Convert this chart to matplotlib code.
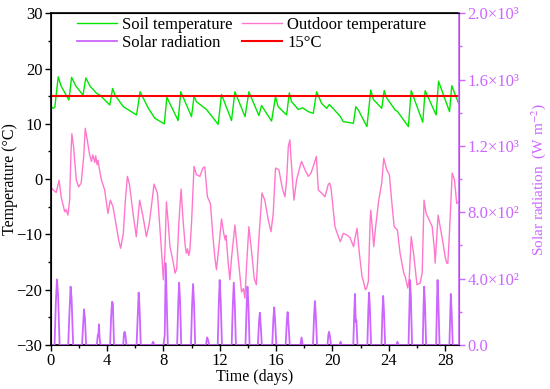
import numpy as np
import matplotlib
matplotlib.use('Agg')
import matplotlib.pyplot as plt

plt.rcParams['font.family'] = ['Liberation Serif', 'DejaVu Serif']
plt.rcParams['mathtext.fontset'] = 'stix'

# soil temperature (degC), vertices
soil_t = [0, 0.18, 0.3, 0.54, 0.75, 1.3, 1.49, 1.8, 2.3, 2.5, 2.8, 3.27, 3.5, 4.2, 4.4, 4.57,
          5.16, 6.1, 6.35, 6.94, 7.4, 8.07, 8.25, 9.05, 9.24, 10.0, 10.18, 10.35, 11.06, 11.89,
          12.13, 12.84, 13.08, 13.8, 14.07, 14.78, 14.97, 15.68, 15.96, 16.15, 16.75, 16.94,
          17.1, 17.58, 17.88, 18.29, 18.64, 18.88, 19.23, 19.59, 19.78, 20.54, 20.77, 21.49,
          21.66, 21.84, 22.45, 22.72, 22.91, 23.5, 23.67, 23.85, 24.45, 24.63, 25.39, 25.59,
          26.41, 26.58, 27.36, 27.53, 28.31, 28.47, 28.95]
soil_T = [13.2, 12.8, 13.0, 18.5, 16.8, 14.3, 18.4, 16.8, 15.2, 18.3, 16.8, 15.5, 15.2, 13.4, 16.4, 15.2,
          13.1, 11.6, 15.8, 12.8, 11.0, 10.0, 14.8, 10.6, 15.8, 11.3, 15.0, 14.0, 12.6, 9.9,
          15.3, 10.6, 15.8, 11.3, 15.8, 11.5, 13.3, 10.5, 14.9, 13.1, 11.6, 15.6,
          14.0, 12.6, 12.9, 12.2, 11.9, 15.8, 13.7, 12.8, 13.5, 11.4, 10.4, 10.1,
          13.1, 12.5, 9.5, 16.1, 14.4, 12.8, 16.0, 14.7, 12.5, 12.2, 9.5, 16.0,
          10.3, 16.0, 11.6, 17.7, 12.2, 16.9, 13.7]

# outdoor temperature (degC)
out_t = [0.0, 0.2, 0.4, 0.6, 0.75, 0.9, 1.0, 1.1, 1.23, 1.35, 1.45, 1.51, 1.63, 1.75, 1.82, 1.99,
         2.17, 2.35, 2.46, 2.6, 2.77, 2.9, 3.0, 3.13, 3.2, 3.3, 3.36, 3.45, 3.6, 3.84, 4.07, 4.24,
         4.43, 4.67, 4.83, 4.97, 5.16, 5.3, 5.45, 5.6, 5.85, 6.08, 6.32, 6.56, 6.8, 7.0, 7.15,
         7.34, 7.58, 7.77, 7.9, 8.0, 8.1, 8.22, 8.35, 8.47, 8.7, 8.83, 8.95, 9.1, 9.26, 9.4,
         9.55, 9.64, 9.72, 9.8, 9.88, 10.0, 10.18, 10.35, 10.6, 10.8, 10.94, 11.13, 11.34, 11.54,
         11.65, 11.77, 11.95, 12.13, 12.3, 12.39, 12.45, 12.6, 12.72, 12.85, 13.08, 13.3, 13.55,
         13.68, 13.79, 13.9, 14.07, 14.3, 14.45, 14.6, 14.75, 15.0, 15.2, 15.45, 15.64, 15.8,
         15.96, 16.2, 16.44, 16.63, 16.75, 16.87, 16.98, 17.1, 17.27, 17.46, 17.7, 17.81, 18.05,
         18.29, 18.48, 18.64, 18.86, 19.0, 19.23, 19.47, 19.7, 19.8, 19.9, 20.18, 20.42, 20.56,
         20.77, 21.04, 21.25, 21.5, 21.6, 21.75, 21.91, 22.1, 22.2, 22.34, 22.43, 22.55, 22.67,
         22.72, 22.86, 22.93, 23.05, 23.27, 23.5, 23.64, 23.85, 24.04, 24.2, 24.38, 24.61, 24.8,
         25.06, 25.16, 25.35, 25.45, 25.59, 25.77, 26.0, 26.22, 26.37, 26.5, 26.65, 27.08, 27.24,
         27.29, 27.5, 27.79, 28.02, 28.12, 28.19, 28.3, 28.5, 28.66, 28.82, 28.95]
out_T = [-1.4, -2.0, -2.4, -0.2, -3.2, -4.8, -5.9, -5.5, -6.5, -3.8, 5.0, 8.2, 5.9, 2.0, -0.1, -1.4,
         -0.7, 4.1, 9.2, 7.1, 4.4, 3.2, 4.4, 3.0, 4.2, 2.6, 3.4, 2.0, -0.1, -2.0, -6.2, -3.8,
         -5.0, -8.6, -11.0, -12.5, -9.8, -4.0, 0.5, -1.0, -6.2, -10.4, -3.8, -6.8, -10.4, -8.0, -5.0,
         -0.9, -2.5, -9.2, -14.0, -18.2, -14.0, -4.1, -8.0, -12.2, -15.0, -17.0, -16.2, -8.0, -1.8, -7.4,
         -12.0, -13.4, -12.6, -13.8, -13.0, -8.0, 2.3, 0.8, 0.5, 2.0, 2.2, -3.2, -4.4, -11.0,
         -14.0, -16.4, -12.0, -7.2, -10.0, -11.0, -10.2, -15.0, -18.2, -14.0, -8.3, -14.0, -20.4,
         -19.8, -21.5, -16.0, -8.6, -14.0, -18.0, -19.1, -12.0, -2.5, -3.8, -7.4, -9.5, -6.2,
         2.0, 1.7, -1.6, -3.2, -0.1, 5.9, 7.1, 2.3, -3.8, -0.1, 2.3, 3.2, 1.7,
         0.5, 1.1, 2.3, 4.1, -2.0, -2.5, -3.2, -1.0, -0.7, -1.6, -8.6, -10.4, -11.3,
         -9.8, -10.1, -10.6, -12.2, -10.7, -8.9, -13.4, -17.6, -18.5, -20.0, -19.7, -18.5, -8.0,
         -5.6, -9.8, -12.2, -9.0, -4.1, -0.7, 3.8, 1.7, 0.8, -3.8, -8.6, -9.2, -13.4,
         -17.0, -17.6, -19.7, -18.0, -10.4, -13.7, -19.1, -18.8, -17.0, -3.8, -6.2, -8.6, -12.8,
         -15.2, -6.5, -10.7, -14.3, -15.2, -15.2, -10.0, 1.1, -0.1, -4.4, -4.1]

# solar radiation (W m-2)
sol_t = [0.0, 0.28, 0.37, 0.45, 0.53, 0.64, 1.25, 1.34, 1.42, 1.49, 1.6, 2.23, 2.31, 2.37, 2.44, 2.52,
         3.28, 3.35, 3.4, 3.43, 3.48, 3.54, 4.22, 4.3, 4.36, 4.42, 4.5, 5.15, 5.21, 5.26, 5.31, 5.38,
         6.1, 6.19, 6.25, 6.31, 6.4, 7.18, 7.27, 7.36, 8.01, 8.1, 8.17, 8.23, 8.32, 8.98, 9.06, 9.12,
         9.19, 9.27, 9.96, 10.04, 10.11, 10.18, 10.26, 11.02, 11.11, 11.18, 11.25, 11.86, 11.94,
         12.0, 12.07, 12.16, 12.85, 12.93, 13.0, 13.07, 13.15, 13.83, 13.91, 13.97, 14.04, 14.12,
         14.71, 14.79, 14.85, 14.91, 14.99, 15.73, 15.81, 15.87, 15.93, 16.02, 16.68, 16.76, 16.82,
         16.88, 16.97, 17.72, 17.81, 17.89, 18.62, 18.7, 18.76, 18.82, 18.91, 19.65, 19.71, 19.76,
         19.83, 19.9, 20.5, 20.58, 20.66, 21.48, 21.55, 21.6, 21.65, 21.7, 21.78, 22.48, 22.55,
         22.6, 22.66, 22.74, 23.48, 23.55, 23.6, 23.66, 23.74, 24.53, 24.61, 24.69, 25.4, 25.47,
         25.51, 25.57, 25.65, 26.41, 26.47, 26.51, 26.57, 26.65, 27.36, 27.42, 27.46, 27.52, 27.6,
         28.3, 28.36, 28.4, 28.46, 28.54, 29.0]
sol_R = [0, 0, 250, 396, 300, 0, 0, 200, 352, 280, 0, 0, 130, 215, 160, 0,
         0, 60, 70, 125, 40, 0, 0, 180, 261, 250, 0, 0, 70, 80, 60, 0,
         0, 200, 316, 230, 0, 0, 20, 0, 0, 60, 493, 300, 0, 0, 250, 376,
         260, 0, 0, 240, 368, 250, 0, 0, 46, 30, 0, 0, 260,
         392, 270, 0, 0, 240, 376, 250, 0, 0, 230, 352, 240, 0,
         0, 140, 195, 120, 0, 0, 160, 227, 150, 0, 0, 140, 199,
         130, 0, 0, 46, 0, 0, 180, 265, 180, 0, 0, 60, 80,
         50, 0, 0, 20, 0, 0, 200, 308, 140, 150, 0, 0, 220,
         316, 220, 0, 0, 200, 296, 200, 0, 0, 20, 0, 0, 260,
         392, 280, 0, 0, 240, 352, 240, 0, 0, 260, 392, 260, 0,
         0, 200, 308, 200, 0, 0]

r_ticks = [0, 400, 800, 1200, 1600, 2000]
r_labels = ['0.0', '4.0×10²', '8.0×10²', '1.2×10³', '1.6×10³', '2.0×10³']

green = '#00e600'
pink = '#ff77cc'
violet = '#cc66ff'

fig = plt.figure(figsize=(5.5, 3.89), dpi=100)
ax = fig.add_axes([0.092, 0.113, 0.743, 0.853])
ax2 = ax.twinx()

l1, = ax.plot(soil_t, soil_T, color=green, lw=1.0, label='Soil temperature')
l2, = ax.plot(out_t, out_T, color=pink, lw=1.0, label='Outdoor temperature')
l4 = ax.axhline(15, color='red', lw=1.5, label='15°C')
l3, = ax2.plot(sol_t, sol_R, color=violet, lw=1.3, label='Solar radiation')

ax.set_xlim(0, 29)
ax.set_ylim(-30, 30)
ax.set_xticks([0, 4, 8, 12, 16, 20, 24, 28])
ax.set_xticks(np.arange(2, 29, 4), minor=True)
ax.set_yticks([-30, -20, -10, 0, 10, 20, 30])
ax.set_yticks([-25, -15, -5, 5, 15, 25], minor=True)
ax.tick_params(labelsize=12, direction='out', length=4, width=1, pad=2)
ax.tick_params(which='minor', direction='out', length=2.5, width=1)
ax.set_xlabel('Time (days)', fontsize=11.5, labelpad=0)
ax.set_ylabel('Temperature (°C)', fontsize=11.5)
ax.yaxis.set_label_coords(-0.08, 0.5)

ax2.set_ylim(0, 2000)
ax2.set_yticks(r_ticks)
ax2.set_yticklabels(r_labels)
ax2.set_yticks([200, 600, 1000, 1400, 1800], minor=True)
ax2.tick_params(axis='y', colors=violet, labelsize=12, direction='out', length=4, width=1, pad=2)
ax2.tick_params(axis='y', which='minor', colors=violet, direction='out', length=2.5, width=1)
ax2.set_ylabel('Solar radiation  (W m$^{-2}$)', color=violet, fontsize=11)
ax2.yaxis.set_label_coords(1.17, 0.5)
ax2.spines['right'].set_color(violet)
ax2.spines['right'].set_linewidth(1.2)
for s in ['left', 'bottom', 'top']:
    ax.spines[s].set_linewidth(1.2)

ax.legend([l1, l3, l2, l4], ['Soil temperature', 'Solar radiation', 'Outdoor temperature', '15°C'],
          ncol=2, loc='upper left', bbox_to_anchor=(0.035, 1.025), frameon=False,
          fontsize=12, handlelength=2.4, handletextpad=0.3, columnspacing=0.6,
          labelspacing=0.15, borderpad=0.2)

fig.savefig('out.png', dpi=100)
